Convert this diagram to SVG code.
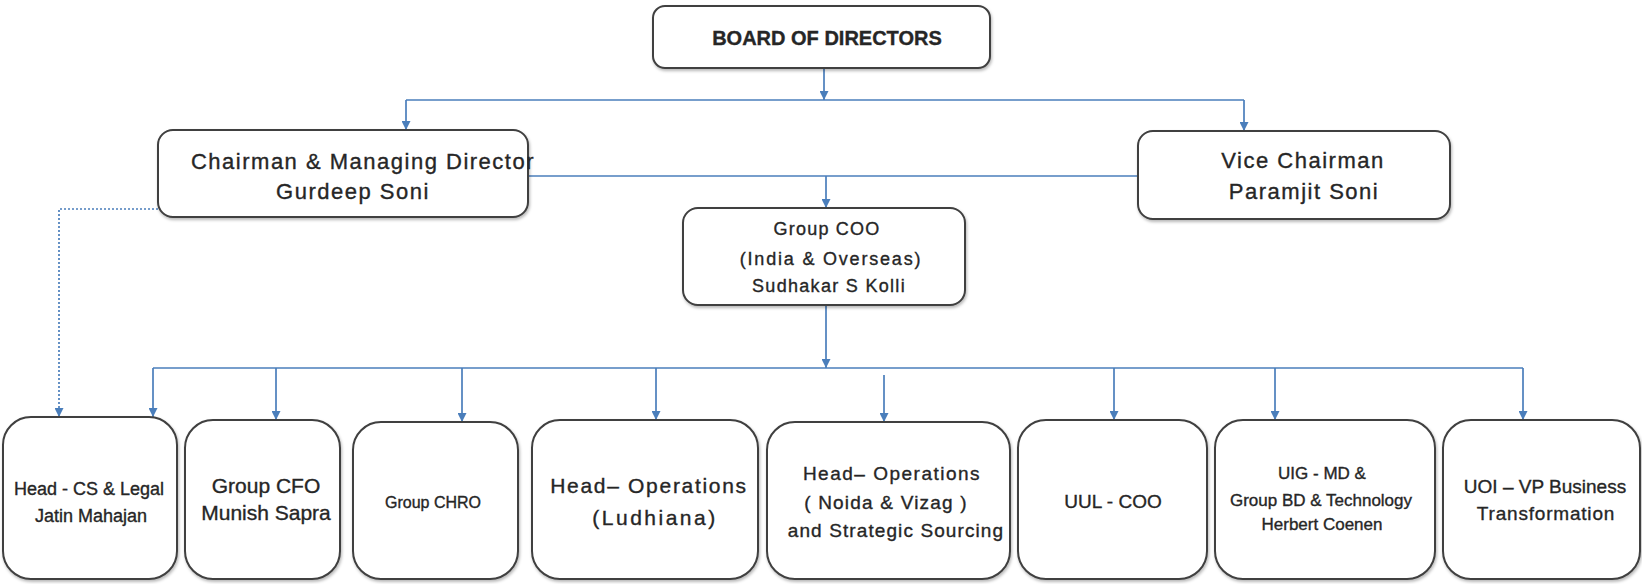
<svg xmlns="http://www.w3.org/2000/svg" width="1642" height="584" viewBox="0 0 1642 584">
<style>
  .box { fill: #ffffff; stroke: #3f3f3f; stroke-width: 2; filter: url(#sh); }
  .t { font-family: "Liberation Sans", Arial, sans-serif; fill: #262626; stroke: #262626; stroke-width: 0.35; text-anchor: middle; }
  .c { fill: none; stroke: #4a7ebb; stroke-width: 1.7; }
  .a { marker-end: url(#ah); }
  .d { stroke-dasharray: 2 2; }
</style>
<defs>
  <filter id="sh" x="-10%" y="-10%" width="120%" height="130%">
    <feDropShadow dx="1" dy="2" stdDeviation="1.5" flood-color="#000" flood-opacity="0.28"/>
  </filter>
  <marker id="ah" viewBox="0 0 10 10" refX="10" refY="5" markerWidth="9" markerHeight="9" orient="auto" markerUnits="userSpaceOnUse">
    <path d="M0,0 L10,5 L0,10 z" fill="#4a7ebb"/>
  </marker>
</defs>

<g id="connectors">
  <path class="c a" d="M824 68 V100"/>
  <path class="c" d="M406 100 H1244"/>
  <path class="c a" d="M406 100 V130"/>
  <path class="c a" d="M1244 100 V131"/>
  <path class="c" d="M528 176 H1138"/>
  <path class="c a" d="M826 176 V208"/>
  <path class="c a" d="M826 305 V368"/>
  <path class="c" d="M153 368 H1523"/>
  <path class="c a" d="M153 368 V417"/>
  <path class="c a" d="M276 368 V420"/>
  <path class="c a" d="M462 368 V422"/>
  <path class="c a" d="M656 368 V420"/>
  <path class="c a" d="M884 375 V422"/>
  <path class="c a" d="M1114 368 V420"/>
  <path class="c a" d="M1275 368 V420"/>
  <path class="c a" d="M1523 368 V420"/>
  <path class="c a d" d="M158 209 H59 V417"/>
</g>

<g id="board">
  <rect class="box" x="653" y="6" width="337" height="62" rx="12"/>
  <text class="t" x="827" y="45" font-size="20" font-weight="bold">BOARD OF DIRECTORS</text>
</g>

<g id="cmd">
  <rect class="box" x="158" y="130" width="370" height="87" rx="15"/>
  <text class="t" x="363" y="169" font-size="22" letter-spacing="1.5">Chairman &amp; Managing Director</text>
  <text class="t" x="353" y="199" font-size="22" letter-spacing="1.5">Gurdeep Soni</text>
</g>

<g id="vice-chairman">
  <rect class="box" x="1138" y="131" width="312" height="88" rx="15"/>
  <text class="t" x="1303" y="168" font-size="22" letter-spacing="1.5">Vice Chairman</text>
  <text class="t" x="1304" y="199" font-size="22" letter-spacing="1.5">Paramjit Soni</text>
</g>

<g id="group-coo">
  <rect class="box" x="683" y="208" width="282" height="97" rx="15"/>
  <text class="t" x="827" y="235" font-size="18" letter-spacing="1.2">Group COO</text>
  <text class="t" x="831" y="265" font-size="18" letter-spacing="1.8">(India &amp; Overseas)</text>
  <text class="t" x="829" y="292" font-size="18" letter-spacing="1.3">Sudhakar S Kolli</text>
</g>

<g id="head-cs-legal">
  <rect class="box" x="3" y="417" width="174" height="162" rx="28"/>
  <text class="t" x="89" y="495" font-size="18">Head - CS &amp; Legal</text>
  <text class="t" x="91" y="522" font-size="18">Jatin Mahajan</text>
</g>

<g id="group-cfo">
  <rect class="box" x="185" y="420" width="155" height="159" rx="28"/>
  <text class="t" x="266" y="493" font-size="21">Group CFO</text>
  <text class="t" x="266" y="520" font-size="21">Munish Sapra</text>
</g>

<g id="group-chro">
  <rect class="box" x="353" y="422" width="165" height="157" rx="28"/>
  <text class="t" x="433" y="508" font-size="16">Group CHRO</text>
</g>

<g id="head-ops-ludhiana">
  <rect class="box" x="532" y="420" width="226" height="159" rx="28"/>
  <text class="t" x="649" y="493" font-size="21" letter-spacing="1.7">Head– Operations</text>
  <text class="t" x="655" y="525" font-size="21" letter-spacing="2.5">(Ludhiana)</text>
</g>

<g id="head-ops-noida">
  <rect class="box" x="767" y="422" width="243" height="157" rx="28"/>
  <text class="t" x="892" y="480" font-size="19" letter-spacing="1.5">Head– Operations</text>
  <text class="t" x="886" y="509" font-size="19" letter-spacing="1.2">( Noida &amp; Vizag )</text>
  <text class="t" x="896" y="537" font-size="19" letter-spacing="1.1">and Strategic Sourcing</text>
</g>

<g id="uul-coo">
  <rect class="box" x="1018" y="420" width="189" height="159" rx="28"/>
  <text class="t" x="1113" y="508" font-size="19">UUL - COO</text>
</g>

<g id="uig-md">
  <rect class="box" x="1215" y="420" width="220" height="159" rx="28"/>
  <text class="t" x="1322" y="479" font-size="17">UIG - MD &amp;</text>
  <text class="t" x="1321" y="506" font-size="17">Group BD &amp; Technology</text>
  <text class="t" x="1322" y="530" font-size="17">Herbert Coenen</text>
</g>

<g id="uoi-vp">
  <rect class="box" x="1443" y="420" width="197" height="159" rx="28"/>
  <text class="t" x="1545" y="493" font-size="19">UOI – VP Business</text>
  <text class="t" x="1546" y="520" font-size="19" letter-spacing="0.8">Transformation</text>
</g>
</svg>
